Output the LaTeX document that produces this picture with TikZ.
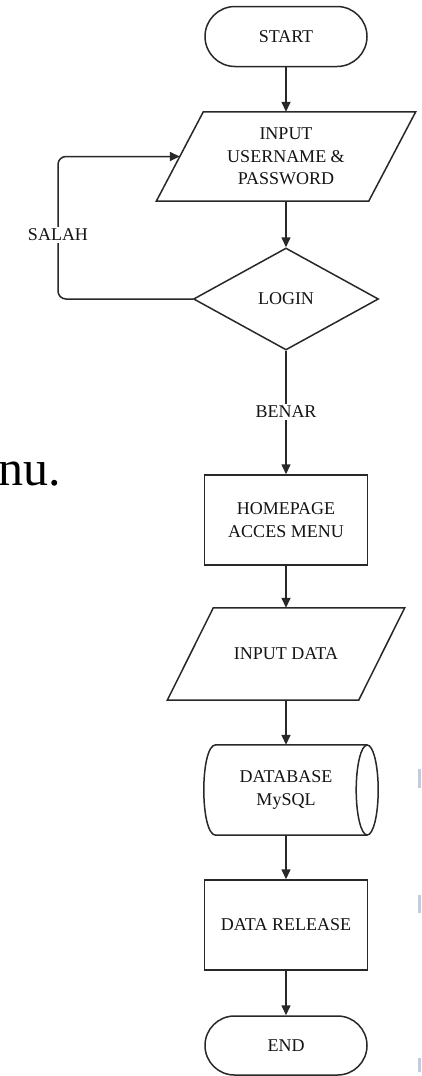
\documentclass[tikz,border=0pt]{standalone}
\usepackage{fontspec}
\setmainfont{Liberation Serif}
\usetikzlibrary{shapes.geometric,shapes.misc,arrows.meta}
\definecolor{ln}{RGB}{40,40,40}
\definecolor{bar}{RGB}{198,203,220}
\begin{document}
\begin{tikzpicture}[x=1pt,y=-1pt,
  txt/.style={font=\fontsize{18}{22.5}\selectfont, align=center, text=black!92},
  base/.style={txt, draw=ln, line width=1.5pt, inner sep=0pt},
  box/.style={txt, inner sep=0pt},
  outline/.style={draw=ln, line width=1.5pt, line join=miter},
  term/.style={base, rounded rectangle, minimum width=162pt, minimum height=60pt},
  proc/.style={base, rectangle, minimum width=163pt, minimum height=90pt},
  dec/.style={base, diamond, minimum width=185pt, minimum height=102pt},
  arr/.style={-{Triangle[length=10pt,width=9pt]}, draw=ln, line width=1.5pt},
  conn/.style={draw=ln, line width=1.5pt},
  lbl/.style={txt, fill=white, inner sep=2pt}
]
\useasboundingbox (0,0) rectangle (421,1076);
\fill[white] (0,0) rectangle (421,1076);

% side text fragment
\node[anchor=base west, inner sep=0pt, font=\fontsize{50}{60}\selectfont] (frag) at (-2,485) {nu.};

% right edge bars
\fill[bar] (418,769) rectangle (421,788);
\fill[bar] (418,895) rectangle (421,913);
\fill[bar] (418,1058) rectangle (421,1072);

\node[term] (start) at (286,36.5) {START};

\node[box, minimum width=259pt, minimum height=89pt] (in1) at (286,156.5) {INPUT\\USERNAME \&\\PASSWORD};
\draw[outline] ([xshift=47pt]in1.north west) -- (in1.north east) -- ([xshift=-47pt]in1.south east) -- (in1.south west) -- cycle;
\coordinate (in1L) at ([xshift=23.5pt]in1.west);

\node[dec] (login) at (286,299) {LOGIN};
\node[proc] (home) at (286,520) {HOMEPAGE\\ACCES MENU};

\node[box, minimum width=237pt, minimum height=92pt] (indata) at (286,654) {INPUT DATA};
\draw[outline] ([xshift=46pt]indata.north west) -- (indata.north east) -- ([xshift=-46pt]indata.south east) -- (indata.south west) -- cycle;

\node[box, minimum width=174pt, minimum height=90pt] (db) at (286,790) {DATABASE\\MySQL};
\draw[outline] ([xshift=-6pt]db.south east) -- ([xshift=17pt]db.south west)
  .. controls ([xshift=1pt]db.south west) and ([xshift=1pt]db.north west) .. ([xshift=17pt]db.north west)
  -- ([xshift=-6pt]db.north east);
\draw[outline] ([xshift=-6pt]db.east) ellipse [x radius=11pt, y radius=45pt];

\node[proc] (rel) at (286,925) {DATA RELEASE};
\node[term, minimum height=59pt] (end) at (286,1045.5) {END};

\node[lbl] (salah) at (58,235) {SALAH};
\node[lbl] (benar) at (286,412) {BENAR};

\draw[arr] (start.south) -- (in1.north);
\draw[arr] (in1.south) -- (login.north);
\draw[conn, rounded corners=8pt] (login.west) -| (salah.south);
\draw[arr, rounded corners=8pt] (salah.north) |- (in1L);
\draw[conn] (login.south) -- (benar.north);
\draw[arr] (benar.south) -- (home.north);
\draw[arr] (home.south) -- (indata.north);
\draw[arr] (indata.south) -- (db.north);
\draw[arr] (db.south) -- (rel.north);
\draw[arr] (rel.south) -- (end.north);
\end{tikzpicture}
\end{document}
